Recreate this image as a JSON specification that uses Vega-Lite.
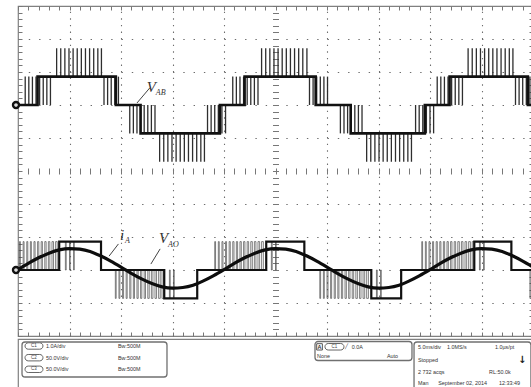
{
  "$schema": "https://vega.github.io/schema/vega-lite/v6.json",
  "background": "white",
  "padding": {"left": 7, "top": 4, "right": 2, "bottom": 1},
  "spacing": 0,
  "config": {
    "view": {"stroke": "#808080", "strokeWidth": 1.2},
    "axis": {"labels": false, "ticks": false, "domain": false, "grid": false, "title": null}
  },
  "datasets": {
    "vab_base": [
      {"t": 0, "v": 0}, {"t": 1.9, "v": 43}, {"t": 9.5, "v": 0}, {"t": 11.9, "v": -43},
      {"t": 19.6, "v": 0}, {"t": 22.0, "v": 43}, {"t": 28.9, "v": 0}, {"t": 32.3, "v": -43},
      {"t": 39.5, "v": 0}, {"t": 41.9, "v": 43}, {"t": 49.5, "v": 0}, {"t": 50, "v": 0}
    ],
    "vab_spikes": [
      {"t": 0.7, "a": 0, "b": 43}, {"t": 1.05, "a": 0, "b": 43}, {"t": 1.4, "a": 0, "b": 43}, {"t": 1.75, "a": 0, "b": 43},
      {"t": 2.1, "a": 0, "b": 43}, {"t": 2.45, "a": 0, "b": 43}, {"t": 2.8, "a": 0, "b": 43}, {"t": 3.15, "a": 0, "b": 43},
      {"t": 3.75, "a": 43, "b": 86}, {"t": 4.15, "a": 43, "b": 86}, {"t": 4.55, "a": 43, "b": 86}, {"t": 4.95, "a": 43, "b": 86},
      {"t": 5.35, "a": 43, "b": 86}, {"t": 5.75, "a": 43, "b": 86}, {"t": 6.15, "a": 43, "b": 86}, {"t": 6.55, "a": 43, "b": 86},
      {"t": 6.95, "a": 43, "b": 86}, {"t": 7.35, "a": 43, "b": 86}, {"t": 7.75, "a": 43, "b": 86}, {"t": 8.1, "a": 43, "b": 86},
      {"t": 8.35, "a": 0, "b": 43}, {"t": 8.7, "a": 0, "b": 43}, {"t": 9.05, "a": 0, "b": 43}, {"t": 9.4, "a": 0, "b": 43}, {"t": 9.75, "a": 0, "b": 43},
      {"t": 10.85, "a": 0, "b": -43}, {"t": 11.2, "a": 0, "b": -43}, {"t": 11.55, "a": 0, "b": -43}, {"t": 11.9, "a": 0, "b": -43},
      {"t": 12.25, "a": 0, "b": -43}, {"t": 12.6, "a": 0, "b": -43}, {"t": 12.95, "a": 0, "b": -43}, {"t": 13.3, "a": 0, "b": -43},
      {"t": 13.75, "a": -43, "b": -86}, {"t": 14.15, "a": -43, "b": -86}, {"t": 14.55, "a": -43, "b": -86}, {"t": 14.95, "a": -43, "b": -86},
      {"t": 15.35, "a": -43, "b": -86}, {"t": 15.75, "a": -43, "b": -86}, {"t": 16.15, "a": -43, "b": -86}, {"t": 16.55, "a": -43, "b": -86},
      {"t": 16.95, "a": -43, "b": -86}, {"t": 17.35, "a": -43, "b": -86}, {"t": 17.75, "a": -43, "b": -86}, {"t": 18.1, "a": -43, "b": -86},
      {"t": 18.4, "a": -43, "b": 0}, {"t": 18.75, "a": -43, "b": 0}, {"t": 19.1, "a": -43, "b": 0}, {"t": 19.45, "a": -43, "b": 0},
      {"t": 19.8, "a": -43, "b": 0}, {"t": 20.15, "a": -43, "b": 0},
      {"t": 20.85, "a": 0, "b": 43}, {"t": 21.2, "a": 0, "b": 43}, {"t": 21.55, "a": 0, "b": 43}, {"t": 21.9, "a": 0, "b": 43},
      {"t": 22.25, "a": 0, "b": 43}, {"t": 22.6, "a": 0, "b": 43}, {"t": 22.95, "a": 0, "b": 43}, {"t": 23.3, "a": 0, "b": 43},
      {"t": 23.65, "a": 43, "b": 86}, {"t": 24.05, "a": 43, "b": 86}, {"t": 24.45, "a": 43, "b": 86}, {"t": 24.85, "a": 43, "b": 86},
      {"t": 25.25, "a": 43, "b": 86}, {"t": 25.65, "a": 43, "b": 86}, {"t": 26.05, "a": 43, "b": 86}, {"t": 26.45, "a": 43, "b": 86},
      {"t": 26.85, "a": 43, "b": 86}, {"t": 27.25, "a": 43, "b": 86}, {"t": 27.65, "a": 43, "b": 86}, {"t": 28.05, "a": 43, "b": 86},
      {"t": 28.3, "a": 0, "b": 43}, {"t": 28.65, "a": 0, "b": 43}, {"t": 29.0, "a": 0, "b": 43}, {"t": 29.35, "a": 0, "b": 43},
      {"t": 29.7, "a": 0, "b": 43}, {"t": 30.05, "a": 0, "b": 43},
      {"t": 31.3, "a": 0, "b": -43}, {"t": 31.65, "a": 0, "b": -43}, {"t": 32.0, "a": 0, "b": -43}, {"t": 32.35, "a": 0, "b": -43},
      {"t": 32.7, "a": 0, "b": -43}, {"t": 33.05, "a": 0, "b": -43}, {"t": 33.4, "a": 0, "b": -43},
      {"t": 33.85, "a": -43, "b": -86}, {"t": 34.25, "a": -43, "b": -86}, {"t": 34.65, "a": -43, "b": -86}, {"t": 35.05, "a": -43, "b": -86},
      {"t": 35.45, "a": -43, "b": -86}, {"t": 35.85, "a": -43, "b": -86}, {"t": 36.25, "a": -43, "b": -86}, {"t": 36.65, "a": -43, "b": -86},
      {"t": 37.05, "a": -43, "b": -86}, {"t": 37.45, "a": -43, "b": -86}, {"t": 37.85, "a": -43, "b": -86}, {"t": 38.2, "a": -43, "b": -86},
      {"t": 38.6, "a": -43, "b": 0}, {"t": 38.95, "a": -43, "b": 0}, {"t": 39.3, "a": -43, "b": 0}, {"t": 39.65, "a": -43, "b": 0},
      {"t": 40.0, "a": -43, "b": 0}, {"t": 40.35, "a": -43, "b": 0},
      {"t": 40.7, "a": 0, "b": 43}, {"t": 41.05, "a": 0, "b": 43}, {"t": 41.4, "a": 0, "b": 43}, {"t": 41.75, "a": 0, "b": 43},
      {"t": 42.1, "a": 0, "b": 43}, {"t": 42.45, "a": 0, "b": 43}, {"t": 42.8, "a": 0, "b": 43}, {"t": 43.15, "a": 0, "b": 43},
      {"t": 43.7, "a": 43, "b": 86}, {"t": 44.1, "a": 43, "b": 86}, {"t": 44.5, "a": 43, "b": 86}, {"t": 44.9, "a": 43, "b": 86},
      {"t": 45.3, "a": 43, "b": 86}, {"t": 45.7, "a": 43, "b": 86}, {"t": 46.1, "a": 43, "b": 86}, {"t": 46.5, "a": 43, "b": 86},
      {"t": 46.9, "a": 43, "b": 86}, {"t": 47.3, "a": 43, "b": 86}, {"t": 47.7, "a": 43, "b": 86}, {"t": 48.05, "a": 43, "b": 86},
      {"t": 48.3, "a": 0, "b": 43}, {"t": 48.65, "a": 0, "b": 43}, {"t": 49.0, "a": 0, "b": 43}, {"t": 49.35, "a": 0, "b": 43}, {"t": 49.7, "a": 0, "b": 43}
    ],
    "vao_base": [
      {"t": 0, "v": 0}, {"t": 4.0, "v": 43}, {"t": 8.06, "v": 0}, {"t": 14.2, "v": -43}, {"t": 17.4, "v": 0},
      {"t": 24.1, "v": 43}, {"t": 27.8, "v": 0}, {"t": 34.3, "v": -43}, {"t": 37.2, "v": 0},
      {"t": 44.3, "v": 43}, {"t": 47.9, "v": 0}, {"t": 50, "v": 0}
    ],
    "vao_pulses": [
      {"t": 0.15, "t2": 0.23, "lo": 0, "hi": 43}, {"t": 0.5, "t2": 0.59, "lo": 0, "hi": 43}, {"t": 0.85, "t2": 0.95, "lo": 0, "hi": 43},
      {"t": 1.2, "t2": 1.3, "lo": 0, "hi": 43}, {"t": 1.55, "t2": 1.66, "lo": 0, "hi": 43}, {"t": 1.9, "t2": 2.02, "lo": 0, "hi": 43},
      {"t": 2.25, "t2": 2.37, "lo": 0, "hi": 43}, {"t": 2.6, "t2": 2.73, "lo": 0, "hi": 43}, {"t": 2.95, "t2": 3.09, "lo": 0, "hi": 43},
      {"t": 3.3, "t2": 3.45, "lo": 0, "hi": 43}, {"t": 3.65, "t2": 3.81, "lo": 0, "hi": 43},
      {"t": 4.6, "t2": 4.68, "lo": 0, "hi": 43}, {"t": 5.0, "t2": 5.07, "lo": 0, "hi": 43}, {"t": 5.4, "t2": 5.46, "lo": 0, "hi": 43},
      {"t": 9.45, "t2": 9.53, "lo": -43, "hi": 0}, {"t": 9.8, "t2": 9.89, "lo": -43, "hi": 0}, {"t": 10.15, "t2": 10.25, "lo": -43, "hi": 0},
      {"t": 10.5, "t2": 10.6, "lo": -43, "hi": 0}, {"t": 10.85, "t2": 10.96, "lo": -43, "hi": 0}, {"t": 11.2, "t2": 11.31, "lo": -43, "hi": 0},
      {"t": 11.55, "t2": 11.67, "lo": -43, "hi": 0}, {"t": 11.9, "t2": 12.02, "lo": -43, "hi": 0}, {"t": 12.25, "t2": 12.38, "lo": -43, "hi": 0},
      {"t": 12.6, "t2": 12.74, "lo": -43, "hi": 0}, {"t": 12.95, "t2": 13.1, "lo": -43, "hi": 0}, {"t": 13.3, "t2": 13.45, "lo": -43, "hi": 0},
      {"t": 13.65, "t2": 13.81, "lo": -43, "hi": 0}, {"t": 13.98, "t2": 14.14, "lo": -43, "hi": 0},
      {"t": 14.7, "t2": 14.78, "lo": -43, "hi": 0}, {"t": 15.1, "t2": 15.17, "lo": -43, "hi": 0},
      {"t": 19.1, "t2": 19.18, "lo": 0, "hi": 43}, {"t": 19.45, "t2": 19.54, "lo": 0, "hi": 43}, {"t": 19.8, "t2": 19.9, "lo": 0, "hi": 43},
      {"t": 20.15, "t2": 20.25, "lo": 0, "hi": 43}, {"t": 20.5, "t2": 20.61, "lo": 0, "hi": 43}, {"t": 20.85, "t2": 20.97, "lo": 0, "hi": 43},
      {"t": 21.2, "t2": 21.32, "lo": 0, "hi": 43}, {"t": 21.55, "t2": 21.68, "lo": 0, "hi": 43}, {"t": 21.9, "t2": 22.03, "lo": 0, "hi": 43},
      {"t": 22.25, "t2": 22.39, "lo": 0, "hi": 43}, {"t": 22.6, "t2": 22.75, "lo": 0, "hi": 43}, {"t": 22.95, "t2": 23.1, "lo": 0, "hi": 43},
      {"t": 23.3, "t2": 23.46, "lo": 0, "hi": 43}, {"t": 23.65, "t2": 23.82, "lo": 0, "hi": 43},
      {"t": 24.6, "t2": 24.68, "lo": 0, "hi": 43}, {"t": 25.0, "t2": 25.07, "lo": 0, "hi": 43},
      {"t": 29.3, "t2": 29.38, "lo": -43, "hi": 0}, {"t": 29.65, "t2": 29.74, "lo": -43, "hi": 0}, {"t": 30.0, "t2": 30.1, "lo": -43, "hi": 0},
      {"t": 30.35, "t2": 30.45, "lo": -43, "hi": 0}, {"t": 30.7, "t2": 30.81, "lo": -43, "hi": 0}, {"t": 31.05, "t2": 31.16, "lo": -43, "hi": 0},
      {"t": 31.4, "t2": 31.52, "lo": -43, "hi": 0}, {"t": 31.75, "t2": 31.88, "lo": -43, "hi": 0}, {"t": 32.1, "t2": 32.23, "lo": -43, "hi": 0},
      {"t": 32.45, "t2": 32.59, "lo": -43, "hi": 0}, {"t": 32.8, "t2": 32.95, "lo": -43, "hi": 0}, {"t": 33.15, "t2": 33.3, "lo": -43, "hi": 0},
      {"t": 33.5, "t2": 33.66, "lo": -43, "hi": 0}, {"t": 33.85, "t2": 34.02, "lo": -43, "hi": 0},
      {"t": 34.8, "t2": 34.88, "lo": -43, "hi": 0}, {"t": 35.2, "t2": 35.27, "lo": -43, "hi": 0},
      {"t": 39.2, "t2": 39.28, "lo": 0, "hi": 43}, {"t": 39.55, "t2": 39.64, "lo": 0, "hi": 43}, {"t": 39.9, "t2": 40.0, "lo": 0, "hi": 43},
      {"t": 40.25, "t2": 40.35, "lo": 0, "hi": 43}, {"t": 40.6, "t2": 40.71, "lo": 0, "hi": 43}, {"t": 40.95, "t2": 41.06, "lo": 0, "hi": 43},
      {"t": 41.3, "t2": 41.42, "lo": 0, "hi": 43}, {"t": 41.65, "t2": 41.78, "lo": 0, "hi": 43}, {"t": 42.0, "t2": 42.13, "lo": 0, "hi": 43},
      {"t": 42.35, "t2": 42.49, "lo": 0, "hi": 43}, {"t": 42.7, "t2": 42.85, "lo": 0, "hi": 43}, {"t": 43.05, "t2": 43.2, "lo": 0, "hi": 43},
      {"t": 43.4, "t2": 43.56, "lo": 0, "hi": 43}, {"t": 43.75, "t2": 43.92, "lo": 0, "hi": 43}, {"t": 44.1, "t2": 44.26, "lo": 0, "hi": 43},
      {"t": 44.8, "t2": 44.88, "lo": 0, "hi": 43}, {"t": 45.2, "t2": 45.27, "lo": 0, "hi": 43},
      {"t": 49.7, "t2": 49.8, "lo": -43, "hi": 0}
    ],
    "ia": [
      {"t": 0, "i": 0.01}, {"t": 1, "i": 0.2}, {"t": 2, "i": 0.37}, {"t": 3, "i": 0.51}, {"t": 4, "i": 0.61},
      {"t": 5, "i": 0.65}, {"t": 6, "i": 0.63}, {"t": 7, "i": 0.56}, {"t": 8, "i": 0.43}, {"t": 9, "i": 0.27},
      {"t": 10, "i": 0.09}, {"t": 11, "i": -0.1}, {"t": 12, "i": -0.27}, {"t": 13, "i": -0.41}, {"t": 14, "i": -0.51},
      {"t": 15, "i": -0.55}, {"t": 16, "i": -0.53}, {"t": 17, "i": -0.46}, {"t": 18, "i": -0.33}, {"t": 19, "i": -0.17},
      {"t": 20, "i": 0.01}, {"t": 21, "i": 0.2}, {"t": 22, "i": 0.37}, {"t": 23, "i": 0.51}, {"t": 24, "i": 0.61},
      {"t": 25, "i": 0.65}, {"t": 26, "i": 0.63}, {"t": 27, "i": 0.56}, {"t": 28, "i": 0.43}, {"t": 29, "i": 0.27},
      {"t": 30, "i": 0.09}, {"t": 31, "i": -0.1}, {"t": 32, "i": -0.27}, {"t": 33, "i": -0.41}, {"t": 34, "i": -0.51},
      {"t": 35, "i": -0.55}, {"t": 36, "i": -0.53}, {"t": 37, "i": -0.46}, {"t": 38, "i": -0.33}, {"t": 39, "i": -0.17},
      {"t": 40, "i": 0.01}, {"t": 41, "i": 0.2}, {"t": 42, "i": 0.37}, {"t": 43, "i": 0.51}, {"t": 44, "i": 0.61},
      {"t": 45, "i": 0.65}, {"t": 46, "i": 0.63}, {"t": 47, "i": 0.56}, {"t": 48, "i": 0.43}, {"t": 49, "i": 0.27},
      {"t": 50, "i": 0.09}
    ],
    "panel_boxes": [
      {"x1": 0.78, "x2": 28.93, "y1": 5.8, "y2": 73.1},
      {"x1": 57.67, "x2": 76.5, "y1": 4.8, "y2": 41.3},
      {"x1": 76.9, "x2": 99.6, "y1": 5.8, "y2": 97.5}
    ],
    "panel_pills": [
      {"x1": 1.36, "x2": 4.85, "y1": 7.3, "y2": 19.6, "cx": 3.1, "cy": 13.5, "s": "C1"},
      {"x1": 1.36, "x2": 4.85, "y1": 29.8, "y2": 42.1, "cx": 3.1, "cy": 36.0, "s": "C2"},
      {"x1": 1.36, "x2": 4.85, "y1": 52.1, "y2": 64.4, "cx": 3.1, "cy": 58.3, "s": "C3"},
      {"x1": 59.6, "x2": 63.3, "y1": 8.7, "y2": 21.2, "cx": 61.45, "cy": 15.0, "s": "C1"}
    ],
    "panel_square": [
      {"x1": 58.0, "x2": 59.1, "y1": 9.0, "y2": 21.2, "cx": 58.55, "cy": 15.2, "s": "A"}
    ],
    "panel_text": [
      {"x": 5.44, "y": 13.5, "s": "1.0A/div"},
      {"x": 5.44, "y": 36.0, "s": "50.0V/div"},
      {"x": 5.44, "y": 58.3, "s": "50.0V/div"},
      {"x": 19.4, "y": 13.5, "s": "Bw:500M"},
      {"x": 19.4, "y": 36.0, "s": "Bw:500M"},
      {"x": 19.4, "y": 58.3, "s": "Bw:500M"},
      {"x": 63.5, "y": 14.0, "s": "╱"},
      {"x": 64.8, "y": 15.0, "s": "0.0A"},
      {"x": 58.06, "y": 32.7, "s": "None"},
      {"x": 71.65, "y": 32.7, "s": "Auto"},
      {"x": 77.67, "y": 14.8, "s": "5.0ms/div"},
      {"x": 83.3, "y": 14.8, "s": "1.0MS/s"},
      {"x": 92.6, "y": 14.8, "s": "1.0µs/pt"},
      {"x": 77.67, "y": 40.4, "s": "Stopped"},
      {"x": 77.67, "y": 62.9, "s": "2 732 acqs"},
      {"x": 91.46, "y": 62.9, "s": "RL:50.0k"},
      {"x": 77.67, "y": 85.2, "s": "Man"},
      {"x": 81.6, "y": 85.2, "s": "September 02, 2014"},
      {"x": 93.4, "y": 85.2, "s": "12:33:49"}
    ],
    "panel_icon": [
      {"x": 97.9, "y": 40.4, "s": "↓"}
    ]
  },
  "vconcat": [
    {
      "width": 515,
      "height": 330,
      "resolve": {"scale": {"x": "independent", "y": "independent"}},
      "layer": [
        {
          "mark": {"type": "rule", "color": "#8c8c8c", "strokeWidth": 1},
          "encoding": {
            "x": {"datum": 25, "type": "quantitative", "scale": {"domain": [0, 50], "nice": false, "zero": false},
              "axis": {"orient": "bottom", "values": [5, 10, 15, 20, 30, 35, 40, 45], "grid": true,
                "gridDash": [1.4, 5.2], "gridColor": "#6e6e6e", "gridWidth": 1.1, "gridOpacity": 1}}
          }
        },
        {
          "mark": {"type": "rule", "color": "#8c8c8c", "strokeWidth": 1},
          "encoding": {
            "y": {"datum": 0, "type": "quantitative", "scale": {"domain": [-5, 5], "nice": false, "zero": false},
              "axis": {"orient": "left", "values": [-4, -3, -2, -1, 1, 2, 3, 4], "grid": true,
                "gridDash": [1.4, 8.9], "gridColor": "#6e6e6e", "gridWidth": 1.1, "gridOpacity": 1}}
          }
        },
        {
          "mark": {"type": "point", "opacity": 0},
          "encoding": {
            "x": {"datum": 0, "type": "quantitative", "scale": {"domain": [0, 50], "nice": false, "zero": false},
              "axis": {"orient": "bottom", "offset": -4, "ticks": true, "tickSize": 4, "tickCount": 50, "tickColor": "#777", "tickWidth": 1}},
            "y": {"datum": 0, "type": "quantitative", "scale": {"domain": [-5, 5], "nice": false, "zero": false},
              "axis": {"orient": "left", "offset": -4, "ticks": true, "tickSize": 4, "tickCount": 50, "tickColor": "#777", "tickWidth": 1}}
          }
        },
        {
          "mark": {"type": "point", "opacity": 0},
          "encoding": {
            "x": {"datum": 0, "type": "quantitative", "scale": {"domain": [0, 50], "nice": false, "zero": false},
              "axis": {"orient": "top", "offset": -4, "ticks": true, "tickSize": 4, "tickCount": 50, "tickColor": "#777", "tickWidth": 1}},
            "y": {"datum": 0, "type": "quantitative", "scale": {"domain": [-5, 5], "nice": false, "zero": false},
              "axis": {"orient": "right", "offset": -4, "ticks": true, "tickSize": 4, "tickCount": 50, "tickColor": "#777", "tickWidth": 1}}
          }
        },
        {
          "mark": {"type": "point", "opacity": 0},
          "encoding": {
            "x": {"datum": 0, "type": "quantitative", "scale": {"domain": [0, 50], "nice": false, "zero": false},
              "axis": {"orient": "bottom", "offset": -168, "ticks": true, "tickSize": 6, "tickCount": 50, "tickColor": "#777", "tickWidth": 1}},
            "y": {"datum": 0, "type": "quantitative", "scale": {"domain": [-5, 5], "nice": false, "zero": false},
              "axis": {"orient": "left", "offset": -260.5, "ticks": true, "tickSize": 6, "tickCount": 50, "tickColor": "#777", "tickWidth": 1}}
          }
        },
        {
          "data": {"name": "vab_spikes"},
          "mark": {"type": "rule", "color": "#2e2e2e", "strokeWidth": 1.3},
          "encoding": {
            "x": {"field": "t", "type": "quantitative", "scale": {"domain": [0, 50], "nice": false, "zero": false}, "axis": null},
            "y": {"field": "a", "type": "quantitative", "scale": {"domain": [-350, 150], "nice": false, "zero": false}, "axis": null},
            "y2": {"field": "b"}
          }
        },
        {
          "data": {"name": "vab_base"},
          "mark": {"type": "line", "interpolate": "step-after", "color": "#111", "strokeWidth": 2.6},
          "encoding": {
            "x": {"field": "t", "type": "quantitative", "scale": {"domain": [0, 50], "nice": false, "zero": false}, "axis": null},
            "y": {"field": "v", "type": "quantitative", "scale": {"domain": [-350, 150], "nice": false, "zero": false}, "axis": null}
          }
        },
        {
          "data": {"name": "vao_pulses"},
          "mark": {"type": "rect", "fillOpacity": 0, "stroke": "#4a4a4a", "strokeWidth": 0.7},
          "encoding": {
            "x": {"field": "t", "type": "quantitative", "scale": {"domain": [0, 50], "nice": false, "zero": false}, "axis": null},
            "x2": {"field": "t2"},
            "y": {"field": "lo", "type": "quantitative", "scale": {"domain": [-100, 400], "nice": false, "zero": false}, "axis": null},
            "y2": {"field": "hi"}
          }
        },
        {
          "data": {"name": "vao_base"},
          "mark": {"type": "line", "interpolate": "step-after", "color": "#111", "strokeWidth": 2.2},
          "encoding": {
            "x": {"field": "t", "type": "quantitative", "scale": {"domain": [0, 50], "nice": false, "zero": false}, "axis": null},
            "y": {"field": "v", "type": "quantitative", "scale": {"domain": [-100, 400], "nice": false, "zero": false}, "axis": null}
          }
        },
        {
          "data": {"name": "ia"},
          "mark": {"type": "line", "interpolate": "monotone", "color": "#0d0d0d", "strokeWidth": 3.2},
          "encoding": {
            "x": {"field": "t", "type": "quantitative", "scale": {"domain": [0, 50], "nice": false, "zero": false}, "axis": null},
            "y": {"field": "i", "type": "quantitative", "scale": {"domain": [-2, 8], "nice": false, "zero": false}, "axis": null}
          }
        },
        {
          "data": {"values": [{"t": 11.55, "v": 3, "t2": 12.8, "v2": 26}]},
          "mark": {"type": "rule", "color": "#444", "strokeWidth": 1},
          "encoding": {
            "x": {"field": "t", "type": "quantitative", "scale": {"domain": [0, 50], "nice": false, "zero": false}, "axis": null},
            "x2": {"field": "t2"},
            "y": {"field": "v", "type": "quantitative", "scale": {"domain": [-350, 150], "nice": false, "zero": false}, "axis": null},
            "y2": {"field": "v2"}
          }
        },
        {
          "data": {"values": [{"t": 12.5, "v": 20, "main": "V", "sub": "AB"}]},
          "layer": [
            {
              "mark": {"type": "text", "align": "left", "baseline": "alphabetic", "font": "Liberation Serif", "fontStyle": "italic", "fontSize": 15, "color": "#333"},
              "encoding": {"text": {"field": "main"}}
            },
            {
              "mark": {"type": "text", "align": "left", "baseline": "alphabetic", "dx": 9, "dy": 3, "font": "Liberation Serif", "fontStyle": "italic", "fontSize": 8, "color": "#333"},
              "encoding": {"text": {"field": "sub"}}
            }
          ],
          "encoding": {
            "x": {"field": "t", "type": "quantitative", "scale": {"domain": [0, 50], "nice": false, "zero": false}, "axis": null},
            "y": {"field": "v", "type": "quantitative", "scale": {"domain": [-350, 150], "nice": false, "zero": false}, "axis": null}
          }
        },
        {
          "data": {"values": [{"t": 0, "v": 0}]},
          "mark": {"type": "point", "shape": "circle", "size": 36, "filled": false, "stroke": "#111", "strokeWidth": 2.4, "fill": "#ddd", "fillOpacity": 1, "xOffset": -2},
          "encoding": {
            "x": {"field": "t", "type": "quantitative", "scale": {"domain": [0, 50], "nice": false, "zero": false}, "axis": null},
            "y": {"field": "v", "type": "quantitative", "scale": {"domain": [-350, 150], "nice": false, "zero": false}, "axis": null}
          }
        },
        {
          "data": {"values": [{"t": 8.84, "v": 0.42, "t2": 9.75, "v2": 0.79}]},
          "mark": {"type": "rule", "color": "#444", "strokeWidth": 1},
          "encoding": {
            "x": {"field": "t", "type": "quantitative", "scale": {"domain": [0, 50], "nice": false, "zero": false}, "axis": null},
            "x2": {"field": "t2"},
            "y": {"field": "v", "type": "quantitative", "scale": {"domain": [-2, 8], "nice": false, "zero": false}, "axis": null},
            "y2": {"field": "v2"}
          }
        },
        {
          "data": {"values": [{"t": 9.9, "v": 0.92, "main": "i", "sub": "A"}]},
          "layer": [
            {
              "mark": {"type": "text", "align": "left", "baseline": "alphabetic", "font": "Liberation Serif", "fontStyle": "italic", "fontSize": 15, "color": "#333"},
              "encoding": {"text": {"field": "main"}}
            },
            {
              "mark": {"type": "text", "align": "left", "baseline": "alphabetic", "dx": 5, "dy": 3, "font": "Liberation Serif", "fontStyle": "italic", "fontSize": 8, "color": "#333"},
              "encoding": {"text": {"field": "sub"}}
            }
          ],
          "encoding": {
            "x": {"field": "t", "type": "quantitative", "scale": {"domain": [0, 50], "nice": false, "zero": false}, "axis": null},
            "y": {"field": "v", "type": "quantitative", "scale": {"domain": [-2, 8], "nice": false, "zero": false}, "axis": null}
          }
        },
        {
          "data": {"values": [{"t": 12.9, "v": 9, "t2": 13.8, "v2": 32}]},
          "mark": {"type": "rule", "color": "#444", "strokeWidth": 1},
          "encoding": {
            "x": {"field": "t", "type": "quantitative", "scale": {"domain": [0, 50], "nice": false, "zero": false}, "axis": null},
            "x2": {"field": "t2"},
            "y": {"field": "v", "type": "quantitative", "scale": {"domain": [-100, 400], "nice": false, "zero": false}, "axis": null},
            "y2": {"field": "v2"}
          }
        },
        {
          "data": {"values": [{"t": 13.7, "v": 41, "main": "V", "sub": "AO"}]},
          "layer": [
            {
              "mark": {"type": "text", "align": "left", "baseline": "alphabetic", "font": "Liberation Serif", "fontStyle": "italic", "fontSize": 15, "color": "#333"},
              "encoding": {"text": {"field": "main"}}
            },
            {
              "mark": {"type": "text", "align": "left", "baseline": "alphabetic", "dx": 9, "dy": 4, "font": "Liberation Serif", "fontStyle": "italic", "fontSize": 8, "color": "#333"},
              "encoding": {"text": {"field": "sub"}}
            }
          ],
          "encoding": {
            "x": {"field": "t", "type": "quantitative", "scale": {"domain": [0, 50], "nice": false, "zero": false}, "axis": null},
            "y": {"field": "v", "type": "quantitative", "scale": {"domain": [-100, 400], "nice": false, "zero": false}, "axis": null}
          }
        },
        {
          "data": {"values": [{"t": 0, "v": 0}]},
          "mark": {"type": "point", "shape": "circle", "size": 36, "filled": false, "stroke": "#111", "strokeWidth": 2.4, "fill": "#ddd", "fillOpacity": 1, "xOffset": -2},
          "encoding": {
            "x": {"field": "t", "type": "quantitative", "scale": {"domain": [0, 50], "nice": false, "zero": false}, "axis": null},
            "y": {"field": "v", "type": "quantitative", "scale": {"domain": [-100, 400], "nice": false, "zero": false}, "axis": null}
          }
        }
      ]
    },
    {
      "width": 515,
      "height": 52,
      "layer": [
        {
          "data": {"name": "panel_boxes"},
          "mark": {"type": "rect", "cornerRadius": 3, "fill": "white", "stroke": "#707070", "strokeWidth": 1.3},
          "encoding": {
            "x": {"field": "x1", "type": "quantitative", "scale": {"domain": [0, 100], "nice": false, "zero": false}, "axis": null},
            "x2": {"field": "x2"},
            "y": {"field": "y1", "type": "quantitative", "scale": {"domain": [0, 100], "nice": false, "zero": false, "reverse": true}, "axis": null},
            "y2": {"field": "y2"}
          }
        },
        {
          "data": {"name": "panel_pills"},
          "mark": {"type": "rect", "cornerRadius": 3.5, "fill": "white", "stroke": "#666", "strokeWidth": 1},
          "encoding": {
            "x": {"field": "x1", "type": "quantitative", "scale": {"domain": [0, 100], "nice": false, "zero": false}, "axis": null},
            "x2": {"field": "x2"},
            "y": {"field": "y1", "type": "quantitative", "scale": {"domain": [0, 100], "nice": false, "zero": false, "reverse": true}, "axis": null},
            "y2": {"field": "y2"}
          }
        },
        {
          "data": {"name": "panel_square"},
          "mark": {"type": "rect", "fill": "white", "stroke": "#555", "strokeWidth": 1},
          "encoding": {
            "x": {"field": "x1", "type": "quantitative", "scale": {"domain": [0, 100], "nice": false, "zero": false}, "axis": null},
            "x2": {"field": "x2"},
            "y": {"field": "y1", "type": "quantitative", "scale": {"domain": [0, 100], "nice": false, "zero": false, "reverse": true}, "axis": null},
            "y2": {"field": "y2"}
          }
        },
        {
          "data": {"name": "panel_pills"},
          "mark": {"type": "text", "align": "center", "baseline": "middle", "font": "Liberation Sans", "fontSize": 4.5, "color": "#444"},
          "encoding": {
            "x": {"field": "cx", "type": "quantitative", "scale": {"domain": [0, 100], "nice": false, "zero": false}, "axis": null},
            "y": {"field": "cy", "type": "quantitative", "scale": {"domain": [0, 100], "nice": false, "zero": false, "reverse": true}, "axis": null},
            "text": {"field": "s"}
          }
        },
        {
          "data": {"name": "panel_square"},
          "mark": {"type": "text", "align": "center", "baseline": "middle", "font": "Liberation Sans", "fontSize": 5.5, "fontWeight": "bold", "color": "#333"},
          "encoding": {
            "x": {"field": "cx", "type": "quantitative", "scale": {"domain": [0, 100], "nice": false, "zero": false}, "axis": null},
            "y": {"field": "cy", "type": "quantitative", "scale": {"domain": [0, 100], "nice": false, "zero": false, "reverse": true}, "axis": null},
            "text": {"field": "s"}
          }
        },
        {
          "data": {"name": "panel_text"},
          "mark": {"type": "text", "align": "left", "baseline": "middle", "font": "Liberation Sans", "fontSize": 5.4, "color": "#333"},
          "encoding": {
            "x": {"field": "x", "type": "quantitative", "scale": {"domain": [0, 100], "nice": false, "zero": false}, "axis": null},
            "y": {"field": "y", "type": "quantitative", "scale": {"domain": [0, 100], "nice": false, "zero": false, "reverse": true}, "axis": null},
            "text": {"field": "s"}
          }
        },
        {
          "data": {"name": "panel_icon"},
          "mark": {"type": "text", "align": "center", "baseline": "middle", "font": "DejaVu Sans", "fontSize": 10, "fontWeight": "bold", "color": "#222"},
          "encoding": {
            "x": {"field": "x", "type": "quantitative", "scale": {"domain": [0, 100], "nice": false, "zero": false}, "axis": null},
            "y": {"field": "y", "type": "quantitative", "scale": {"domain": [0, 100], "nice": false, "zero": false, "reverse": true}, "axis": null},
            "text": {"field": "s"}
          }
        }
      ]
    }
  ]
}
